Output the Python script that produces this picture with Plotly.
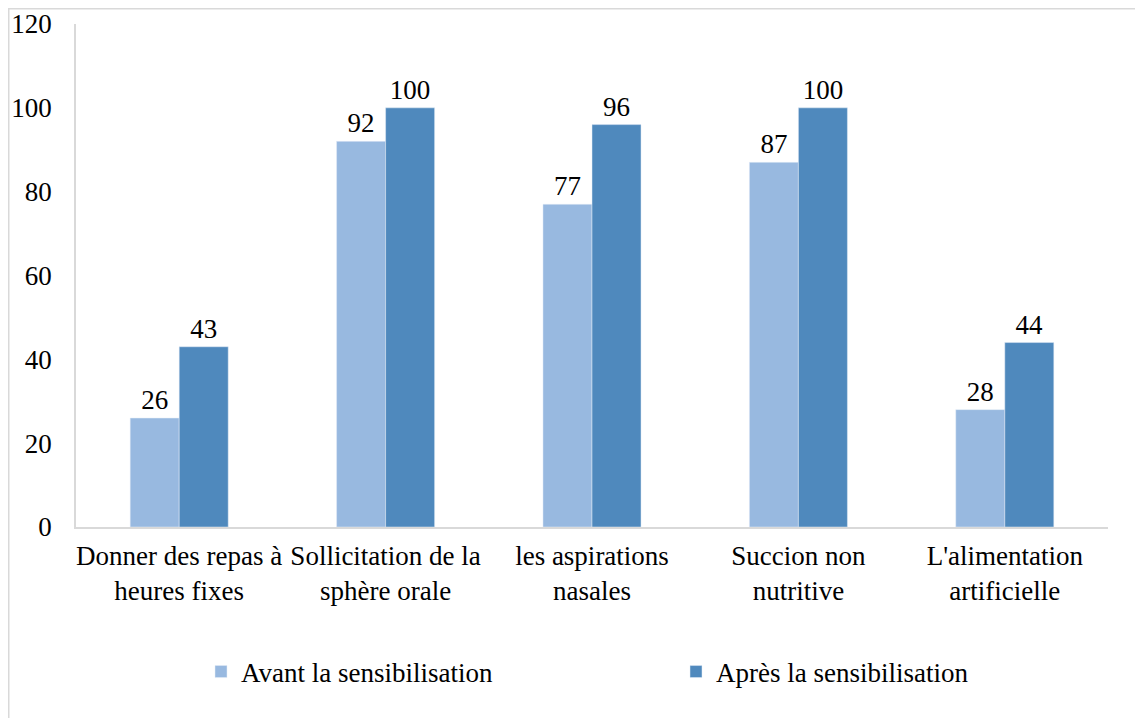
import plotly.graph_objects as go

categories = ["Donner des repas à<br>heures fixes", "Sollicitation de la<br>sphère orale",
              "les aspirations<br>nasales", "Succion non<br>nutritive", "L'alimentation<br>artificielle"]
avant = [26, 92, 77, 87, 28]
apres = [43, 100, 96, 100, 44]
series_names = ["Avant la sensibilisation", "Après la sensibilisation"]
y_ticks = [0, 20, 40, 60, 80, 100, 120]

FONT = "Liberation Serif, Times New Roman, serif"
FS = 27
OFF = 8  # page body margin
W, H = 1143 - OFF, 718 - OFF
# target screen coordinates of the plot area
SX0, SX1, SY0, SY1 = 76, 1108, 24, 527
L, T = SX0 - OFF, SY0 - OFF
R = W - (SX1 - OFF)
B = H - (SY1 - OFF)
pw, ph = W - L - R, H - T - B

def px_x(x):
    return (x - SX0) / pw

def px_y(y):
    return (SY1 - y) / ph

fig = go.Figure()
fig.add_trace(go.Bar(x=categories, y=avant, name=series_names[0], marker_color="#98B9E0",
                     text=avant, textposition="outside", cliponaxis=False,
                     textfont=dict(family=FONT, size=FS, color="#000")))
fig.add_trace(go.Bar(x=categories, y=apres, name=series_names[1], marker_color="#4F89BD",
                     text=apres, textposition="outside", cliponaxis=False,
                     textfont=dict(family=FONT, size=FS, color="#000")))

fig.update_layout(
    width=W, height=H,
    margin=dict(l=L, r=R, t=T, b=B, autoexpand=False),
    paper_bgcolor="white", plot_bgcolor="white",
    font=dict(family=FONT, size=FS, color="#000"),
    barmode="group", bargap=0.525, bargroupgap=0,
    showlegend=True,
    legend=dict(orientation="h", x=px_x(201), xanchor="left", y=px_y(672), yanchor="middle",
                font=dict(family=FONT, size=FS), entrywidth=430, entrywidthmode="pixels",
                itemwidth=30, traceorder="normal"),
    xaxis=dict(showline=True, linecolor="#D9D9D9", linewidth=1.5, ticks="", tickfont=dict(size=FS),
               ticklabelstandoff=4),
    yaxis=dict(range=[0, 120], tickvals=y_ticks, showgrid=False, zeroline=False, showline=True,
               linecolor="#D9D9D9", linewidth=1.5, ticks="", ticklabelstandoff=17,
               tickfont=dict(size=FS)),
    shapes=[dict(type="rect", xref="paper", yref="paper",
                 x0=px_x(8.75), x1=px_x(1170), y0=px_y(750), y1=px_y(8.75),
                 line=dict(color="#D9D9D9", width=1.5), fillcolor="rgba(0,0,0,0)", layer="below")],
)

fig.write_html("out.html")
